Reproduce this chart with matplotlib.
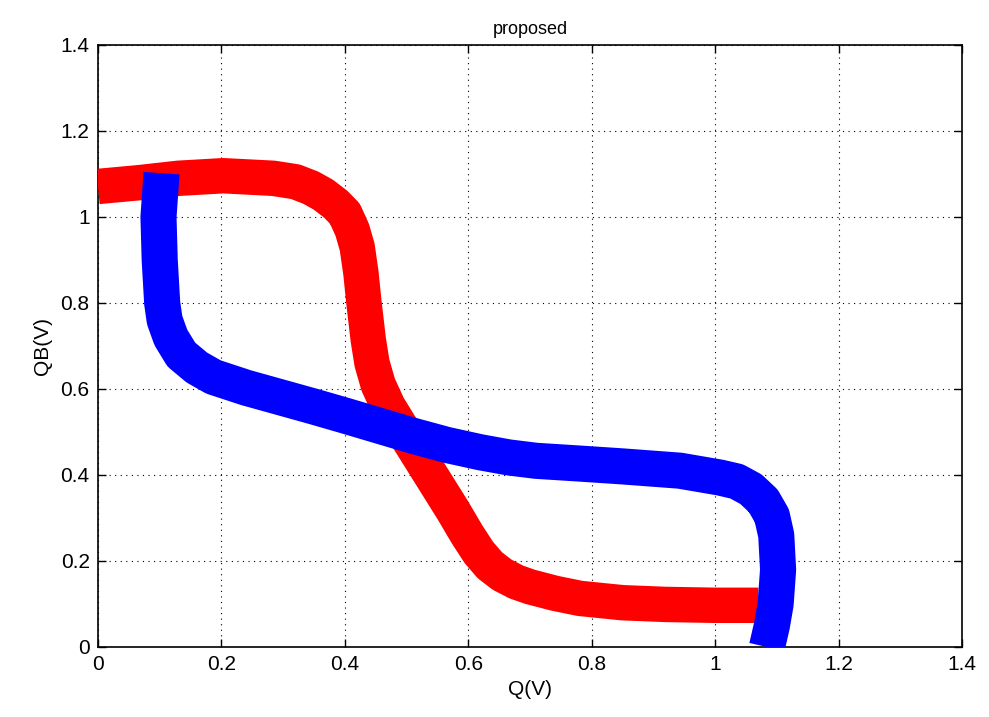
import matplotlib
matplotlib.use("Agg")
import matplotlib.pyplot as plt

# Red curve (Q vs QB) centerline
red_q  = [0.00, 0.068, 0.13, 0.203, 0.284, 0.32, 0.345, 0.365, 0.385, 0.40, 0.412, 0.420, 0.426, 0.431, 0.438, 0.444,
          0.454, 0.47, 0.497, 0.541, 0.575, 0.598, 0.617, 0.635, 0.655, 0.678, 0.70, 0.74, 0.781, 0.85, 0.92, 1.00, 1.07]
red_qb = [1.071, 1.08, 1.09, 1.096, 1.09, 1.082, 1.068, 1.052, 1.03, 1.008, 0.97, 0.93, 0.87, 0.80, 0.714, 0.66,
          0.61, 0.56, 0.497, 0.396, 0.318, 0.262, 0.22, 0.19, 0.168, 0.151, 0.14, 0.125, 0.113, 0.103, 0.099, 0.097, 0.097]

# Blue curve centerline
blue_q  = [0.103, 0.098, 0.100, 0.104, 0.108, 0.118, 0.135, 0.16, 0.187, 0.24, 0.295, 0.35, 0.403, 0.457, 0.511, 0.565,
           0.619, 0.665, 0.71, 0.776, 0.85, 0.943, 1.008, 1.035, 1.058, 1.078, 1.092, 1.099, 1.102, 1.098, 1.092, 1.084]
blue_qb = [1.102, 1.00, 0.90, 0.80, 0.76, 0.72, 0.68, 0.65, 0.628, 0.603, 0.581, 0.559, 0.537, 0.514, 0.491, 0.47,
           0.453, 0.441, 0.433, 0.427, 0.42, 0.41, 0.394, 0.385, 0.367, 0.34, 0.305, 0.26, 0.18, 0.10, 0.05, 0.0]

xticks = [0, 0.2, 0.4, 0.6, 0.8, 1, 1.2, 1.4]
yticks = [0, 0.2, 0.4, 0.6, 0.8, 1, 1.2, 1.4]
xtick_labels = ["0", "0.2", "0.4", "0.6", "0.8", "1", "1.2", "1.4"]
ytick_labels = ["0", "0.2", "0.4", "0.6", "0.8", "1", "1.2", "1.4"]

plt.rcParams['font.family'] = ['Liberation Sans', 'DejaVu Sans']

fig = plt.figure(figsize=(9.89, 7.17), dpi=100)
ax = fig.add_axes([98/989, 1-647/717, (962-98)/989, (647-45)/717])

ax.plot(red_q, red_qb, color='#ff0000', lw=25.5, solid_capstyle='butt', solid_joinstyle='round', zorder=3)
ax.plot(blue_q, blue_qb, color='#0000ff', lw=26, solid_capstyle='butt', solid_joinstyle='round', zorder=4)

ax.set_xlim(0, 1.4)
ax.set_ylim(0, 1.4)
ax.set_xticks(xticks)
ax.set_xticklabels(xtick_labels)
ax.set_yticks(yticks)
ax.set_yticklabels(ytick_labels)
ax.grid(True, color='black', linestyle=(0, (1, 4)), linewidth=0.8, zorder=1)
ax.set_axisbelow(True)
ax.tick_params(direction='in', top=True, right=True, length=6, width=1, labelsize=15, colors='black', pad=6)
for s in ax.spines.values():
    s.set_linewidth(1.2)
    s.set_color('black')
ax.set_xlabel('Q(V)', fontsize=15, labelpad=4)
ax.set_ylabel('QB(V)', fontsize=15, labelpad=6)
ax.set_title('proposed', fontsize=13, pad=8)

fig.savefig('out.png', dpi=100)
